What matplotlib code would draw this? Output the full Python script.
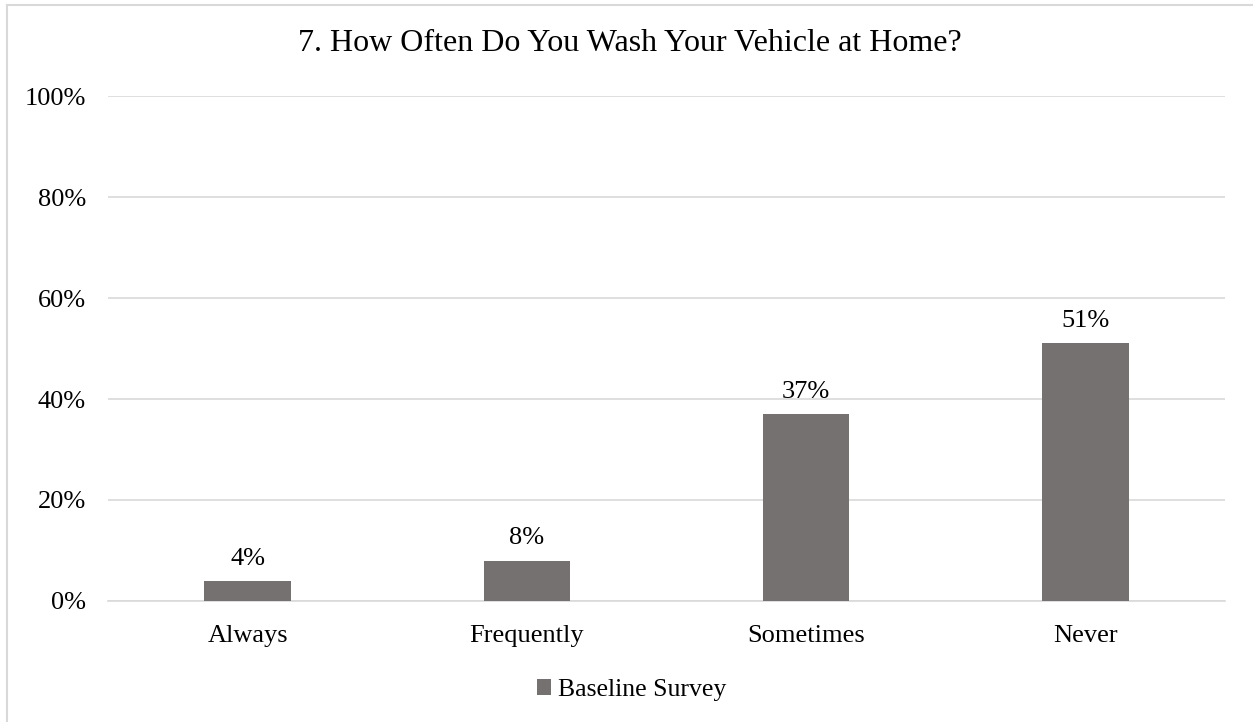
import matplotlib
matplotlib.use("Agg")
import matplotlib.pyplot as plt
from matplotlib.lines import Line2D

categories = ["Always", "Frequently", "Sometimes", "Never"]
baseline = [0.04, 0.08, 0.37, 0.51]
yticks = [0, 0.2, 0.4, 0.6, 0.8, 1.0]
ytick_labels = ["0%", "20%", "40%", "60%", "80%", "100%"]
title = "7. How Often Do You Wash Your Vehicle at Home?"
series_name = "Baseline Survey"

plt.rcParams["font.family"] = ["Liberation Serif", "DejaVu Serif"]

bar_color = "#767171"
grid_color = "#d9d9d9"

fig = plt.figure(figsize=(12.53, 7.22), dpi=100)
ax = fig.add_axes([0.0862, 0.1676, 0.8915, 0.6994])

x = range(len(categories))
bars = ax.bar(x, baseline, width=0.31, color=bar_color, zorder=3, label=series_name)

for xi, v in zip(x, baseline):
    ax.annotate(f"{v*100:.0f}%", (xi, v), xytext=(0, 8), textcoords="offset points",
                ha="center", va="bottom", fontsize=19)

ax.set_xlim(-0.5, len(categories) - 0.5)
ax.set_ylim(0, 1.0)
ax.set_yticks(yticks)
ax.set_yticklabels(ytick_labels, fontsize=19)
ax.set_xticks(list(x))
ax.set_xticklabels(categories, fontsize=19)
ax.tick_params(axis="both", length=0)
ax.tick_params(axis="y", pad=16)
ax.tick_params(axis="x", pad=17)
ax.grid(axis="y", color=grid_color, linewidth=1.2, zorder=0)
for side in ["top", "right", "left"]:
    ax.spines[side].set_visible(False)
ax.spines["bottom"].set_color(grid_color)
ax.spines["bottom"].set_linewidth(1.2)

fig.text(0.503, 0.94, title, ha="center", va="center", fontsize=23)

fig.legend(handles=[bars], labels=[series_name], loc="center", bbox_to_anchor=(0.504, 0.044),
           frameon=False, fontsize=18.5, handlelength=0.55, handleheight=0.55, handletextpad=0.25)

# Chart-area frame: top and left edges only
W, H = 1253, 722
fig.lines.append(Line2D([7 / W, 1.0], [1 - 5 / H, 1 - 5 / H], transform=fig.transFigure,
                        color=grid_color, linewidth=1.5))
fig.lines.append(Line2D([7 / W, 7 / W], [0.0, 1 - 5 / H], transform=fig.transFigure,
                        color=grid_color, linewidth=1.5))

fig.savefig("out.png", dpi=100)
